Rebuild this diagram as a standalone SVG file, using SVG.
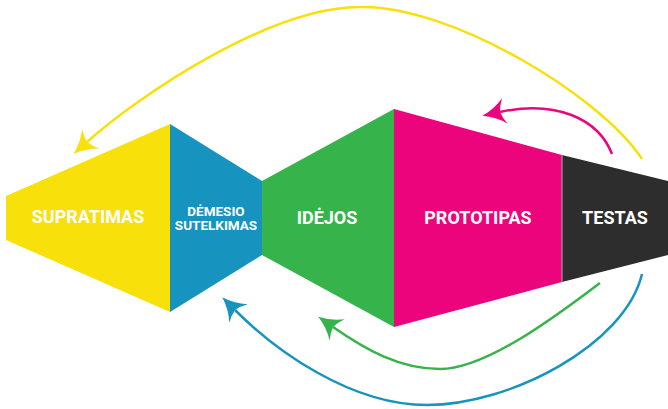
<svg xmlns="http://www.w3.org/2000/svg" width="668" height="409" viewBox="0 0 668 409">
  <style>
    .label { font-family: Roboto, "Liberation Sans", Arial, sans-serif; font-weight: 700; fill: #ffffff; text-anchor: middle; }
    .big { font-size: 18px; }
    .small { font-size: 13.5px; }
    .flow { fill: none; stroke-width: 2.5; }
  </style>
  <defs>
    <path id="head" d="M18,0 Q5,-4 -5,-13 Q-1,-6 0,0 Q-1,6 -5,13 Q5,4 18,0 Z"/>
    <marker id="arrow-yellow" markerUnits="userSpaceOnUse" markerWidth="40" markerHeight="40" refX="0" refY="0" orient="auto" overflow="visible">
      <use href="#head" fill="#F8E00B"/>
    </marker>
    <marker id="arrow-pink" markerUnits="userSpaceOnUse" markerWidth="40" markerHeight="40" refX="0" refY="0" orient="auto" overflow="visible">
      <use href="#head" fill="#EC047C"/>
    </marker>
    <marker id="arrow-green" markerUnits="userSpaceOnUse" markerWidth="40" markerHeight="40" refX="0" refY="0" orient="auto" overflow="visible">
      <use href="#head" fill="#36B44B"/>
    </marker>
    <marker id="arrow-blue" markerUnits="userSpaceOnUse" markerWidth="40" markerHeight="40" refX="0" refY="0" orient="auto" overflow="visible">
      <use href="#head" fill="#1793BF"/>
    </marker>
  </defs>

  <rect width="668" height="409" fill="#ffffff"/>

  <!-- stages of the process -->
  <g id="supratimas">
    <polygon points="6,196 170,124 170,312 6,240" fill="#F8E00B"/>
    <text class="label big" x="88" y="223">SUPRATIMAS</text>
  </g>
  <g id="demesio-sutelkimas">
    <polygon points="170,124 262,181 262,255 170,312" fill="#1793BF"/>
    <text class="label small" x="216" y="215.5">DĖMESIO</text>
    <text class="label small" x="216" y="229.5">SUTELKIMAS</text>
  </g>
  <g id="idejos">
    <polygon points="262,181 394,109 394,327 262,255" fill="#36B44B"/>
    <text class="label big" x="327" y="224">IDĖJOS</text>
  </g>
  <g id="prototipas">
    <polygon points="394,109 562,155 562,282 394,327" fill="#EC047C"/>
    <text class="label big" x="478" y="224">PROTOTIPAS</text>
  </g>
  <g id="testas">
    <polygon points="562,155 668,181 668,255 562,282" fill="#2D2D2D"/>
    <line x1="562" y1="155" x2="562" y2="282" stroke="#b8a9b0" stroke-width="1"/>
    <text class="label big" x="615" y="224">TESTAS</text>
  </g>

  <!-- feedback loops from testing back to earlier stages -->
  <g id="connectors">
    <path class="flow" stroke="#F8E00B" marker-end="url(#arrow-yellow)"
          d="M642,159 C600,95 450,5 360,7 C270,7 140,95 87,142"/>
    <path class="flow" stroke="#EC047C" marker-end="url(#arrow-pink)"
          d="M612,154 C598,118 555,100 500,112"/>
    <path class="flow" stroke="#36B44B" marker-end="url(#arrow-green)"
          d="M600,283 C570,305 490,369 440,369 C400,369 366,350 333,327"/>
    <path class="flow" stroke="#1793BF" marker-end="url(#arrow-blue)"
          d="M642,274 C625,345 510,405 427,405 C350,405 275,350 235,310"/>
  </g>
</svg>
